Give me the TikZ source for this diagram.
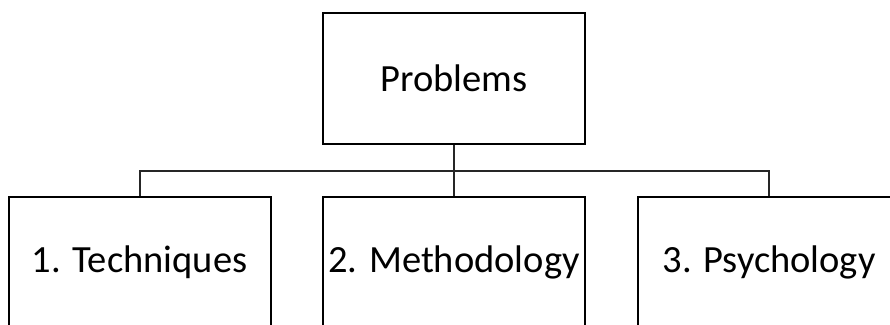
\documentclass[tikz,border=0pt]{standalone}
\usepackage{fontspec}
\setmainfont{Carlito}
\begin{document}
\begin{tikzpicture}[x=1pt,y=-1pt,
  box/.style={draw=black,line width=2pt,minimum width=262pt,minimum height=131pt,inner sep=0pt,
    font=\fontsize{38.5}{44}\selectfont},
  conn/.style={draw=black!85,line width=2pt}]
\useasboundingbox (0,0) rectangle (890,324);
\clip (0,0) rectangle (890,324);
\node[box] (top) at (454,78.5) {Problems};
\node[box] (t1) at (139.5,262.5) {1. Techniques};
\node[box] (t2) at (454,262.5) {2. Methodology};
\node[box] (t3) at (769,262.5) {3. Psychology};
\coordinate (bus) at (454,171);
\draw[conn] (top.south) -- (t2.north);
\draw[conn] (t1.north) |- (bus) -| (t3.north);
\end{tikzpicture}
\end{document}
